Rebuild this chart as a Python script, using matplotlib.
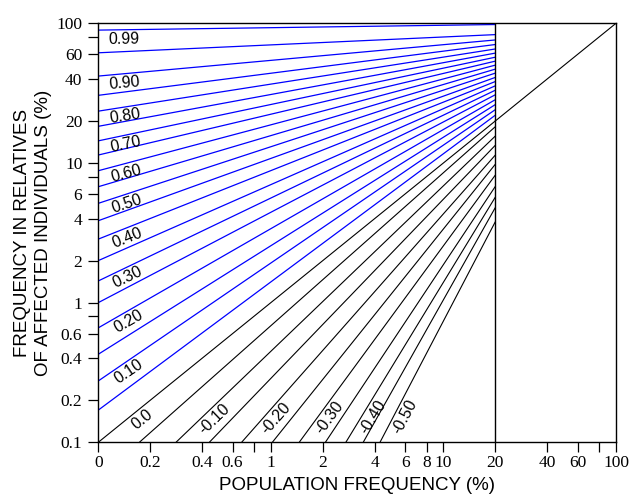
import numpy as np
import matplotlib
matplotlib.use("Agg")
import matplotlib.pyplot as plt
from matplotlib import transforms
from matplotlib.ticker import FixedLocator, FixedFormatter, NullFormatter

# correlation lines, positive (blue): frequency in relatives (%) at population 0.1% and at 20%
pos_r = [0.05, 0.10, 0.15, 0.20, 0.25, 0.30, 0.35, 0.40, 0.45, 0.50,
         0.55, 0.60, 0.65, 0.70, 0.75, 0.80, 0.85, 0.90, 0.95, 0.99]
pos_left = [0.17, 0.275, 0.427, 0.66, 1.0, 1.43, 2.0, 2.85, 3.86, 5.14,
            6.76, 8.8, 11.4, 14.4, 18.3, 23.5, 30.5, 41.9, 61.5, 89.4]
pos_right = [22.0, 24.1, 26.2, 28.4, 30.8, 33.2, 35.7, 38.3, 41.0, 44.0,
             47.0, 50.2, 53.6, 57.2, 61.2, 65.5, 70.5, 76.0, 83.0, 98.0]
pos_labels = {0.10: "0.10", 0.20: "0.20", 0.30: "0.30", 0.40: "0.40", 0.50: "0.50",
              0.60: "0.60", 0.70: "0.70", 0.80: "0.80", 0.90: "0.90", 0.99: "0.99"}

# zero and negative (black): population % where the line leaves 0.1%, and relatives % at 20%
neg_r = [0.0, -0.05, -0.10, -0.15, -0.20, -0.25, -0.30, -0.35, -0.40, -0.45, -0.50]
neg_start = [0.1, 0.173, 0.282, 0.44, 0.677, 1.02, 1.46, 2.07, 2.72, 3.43, 4.29]
neg_right = [20.0, 18.2, 15.6, 13.4, 11.4, 9.8, 8.2, 6.8, 5.7, 4.8, 3.8]
neg_labels = {0.0: "0.0", -0.10: "-0.10", -0.20: "-0.20", -0.30: "-0.30",
              -0.40: "-0.40", -0.50: "-0.50"}

diag_x = [20, 100]
diag_y = [20, 100]

x_ticks = [0.1, 0.2, 0.4, 0.6, 1, 2, 4, 6, 8, 10, 20, 40, 60, 100]
x_ticklabels = ["0", "0.2", "0.4", "0.6", "1", "2", "4", "6", "8", "10", "20", "40", "60", "100"]
x_minor = [0.8, 80]
y_ticks = [0.1, 0.2, 0.4, 0.6, 1, 2, 4, 6, 10, 20, 40, 60, 100]
y_ticklabels = ["0.1", "0.2", "0.4", "0.6", "1", "2", "4", "6", "10", "20", "40", "60", "100"]
y_minor = [0.8, 8, 80]

sans = "Liberation Sans"
serif = "Liberation Serif"

fig = plt.figure(figsize=(6.29, 4.97), dpi=100)
ax = fig.add_axes([0.1563, 0.1101, 0.9793 - 0.1563, 0.9531 - 0.1101])
ax.set_xscale("log")
ax.set_yscale("log")
ax.set_xlim(0.1, 100)
ax.set_ylim(0.1, 100)

xcut = 20
for r, yl, yr in zip(pos_r, pos_left, pos_right):
    ax.plot([0.1, xcut], [yl, yr], color="#0000ff", lw=0.9, solid_capstyle="butt")
for r, xs, yr in zip(neg_r, neg_start, neg_right):
    ax.plot([xs, xcut], [0.1, yr], color="black", lw=0.8, solid_capstyle="butt")
ax.plot([xcut, xcut], [0.1, 100], color="black", lw=1.0)
ax.plot(diag_x, diag_y, color="black", lw=0.8)


def put_label(p0, p1, anchor, text):
    d0 = ax.transData.transform(p0)
    d1 = ax.transData.transform(p1)
    ang = np.degrees(np.arctan2(d1[1] - d0[1], d1[0] - d0[0]))
    gap = 2.0
    a = np.radians(ang)
    tr = transforms.offset_copy(ax.transData, fig=fig, x=gap * np.sin(a),
                                y=-gap * np.cos(a), units="dots")
    ax.text(anchor[0], anchor[1], text, transform=tr, rotation=ang,
            rotation_mode="anchor", ha="center", va="top",
            fontsize=11.5, family=sans)


for r, yl, yr in zip(pos_r, pos_left, pos_right):
    if r in pos_labels:
        xa = 0.14
        t = (np.log10(xa) - np.log10(0.1)) / (np.log10(xcut) - np.log10(0.1))
        ya = 10 ** (np.log10(yl) + t * (np.log10(yr) - np.log10(yl)))
        put_label((0.1, yl), (xcut, yr), (xa, ya), pos_labels[r])

for r, xs, yr in zip(neg_r, neg_start, neg_right):
    if r in neg_labels:
        ya = 0.165
        t = (np.log10(ya) - np.log10(0.1)) / (np.log10(yr) - np.log10(0.1))
        xa = 10 ** (np.log10(xs) + t * (np.log10(xcut) - np.log10(xs)))
        put_label((xs, 0.1), (xcut, yr), (xa, ya), neg_labels[r])

ax.xaxis.set_major_locator(FixedLocator(x_ticks))
ax.xaxis.set_major_formatter(FixedFormatter(x_ticklabels))
ax.xaxis.set_minor_locator(FixedLocator(x_minor))
ax.xaxis.set_minor_formatter(NullFormatter())
ax.yaxis.set_major_locator(FixedLocator(y_ticks))
ax.yaxis.set_major_formatter(FixedFormatter(y_ticklabels))
ax.yaxis.set_minor_locator(FixedLocator(y_minor))
ax.yaxis.set_minor_formatter(NullFormatter())

ax.tick_params(which="both", direction="out", length=7.5, width=0.9, top=False, right=False)
ax.tick_params(axis="x", which="major", pad=2)
ax.tick_params(axis="y", which="major", pad=4)
for lab in ax.get_xticklabels() + ax.get_yticklabels():
    lab.set_fontfamily(serif)
    lab.set_fontsize(12.5)
for sp in ax.spines.values():
    sp.set_linewidth(1.0)

ax.set_xlabel("POPULATION FREQUENCY (%)", fontsize=13.5, family=sans, labelpad=4)
ax.set_ylabel("FREQUENCY IN RELATIVES\nOF AFFECTED INDIVIDUALS (%)", fontsize=13.5,
              family=sans, labelpad=3, linespacing=1.3)

fig.savefig("out.png", dpi=100)
